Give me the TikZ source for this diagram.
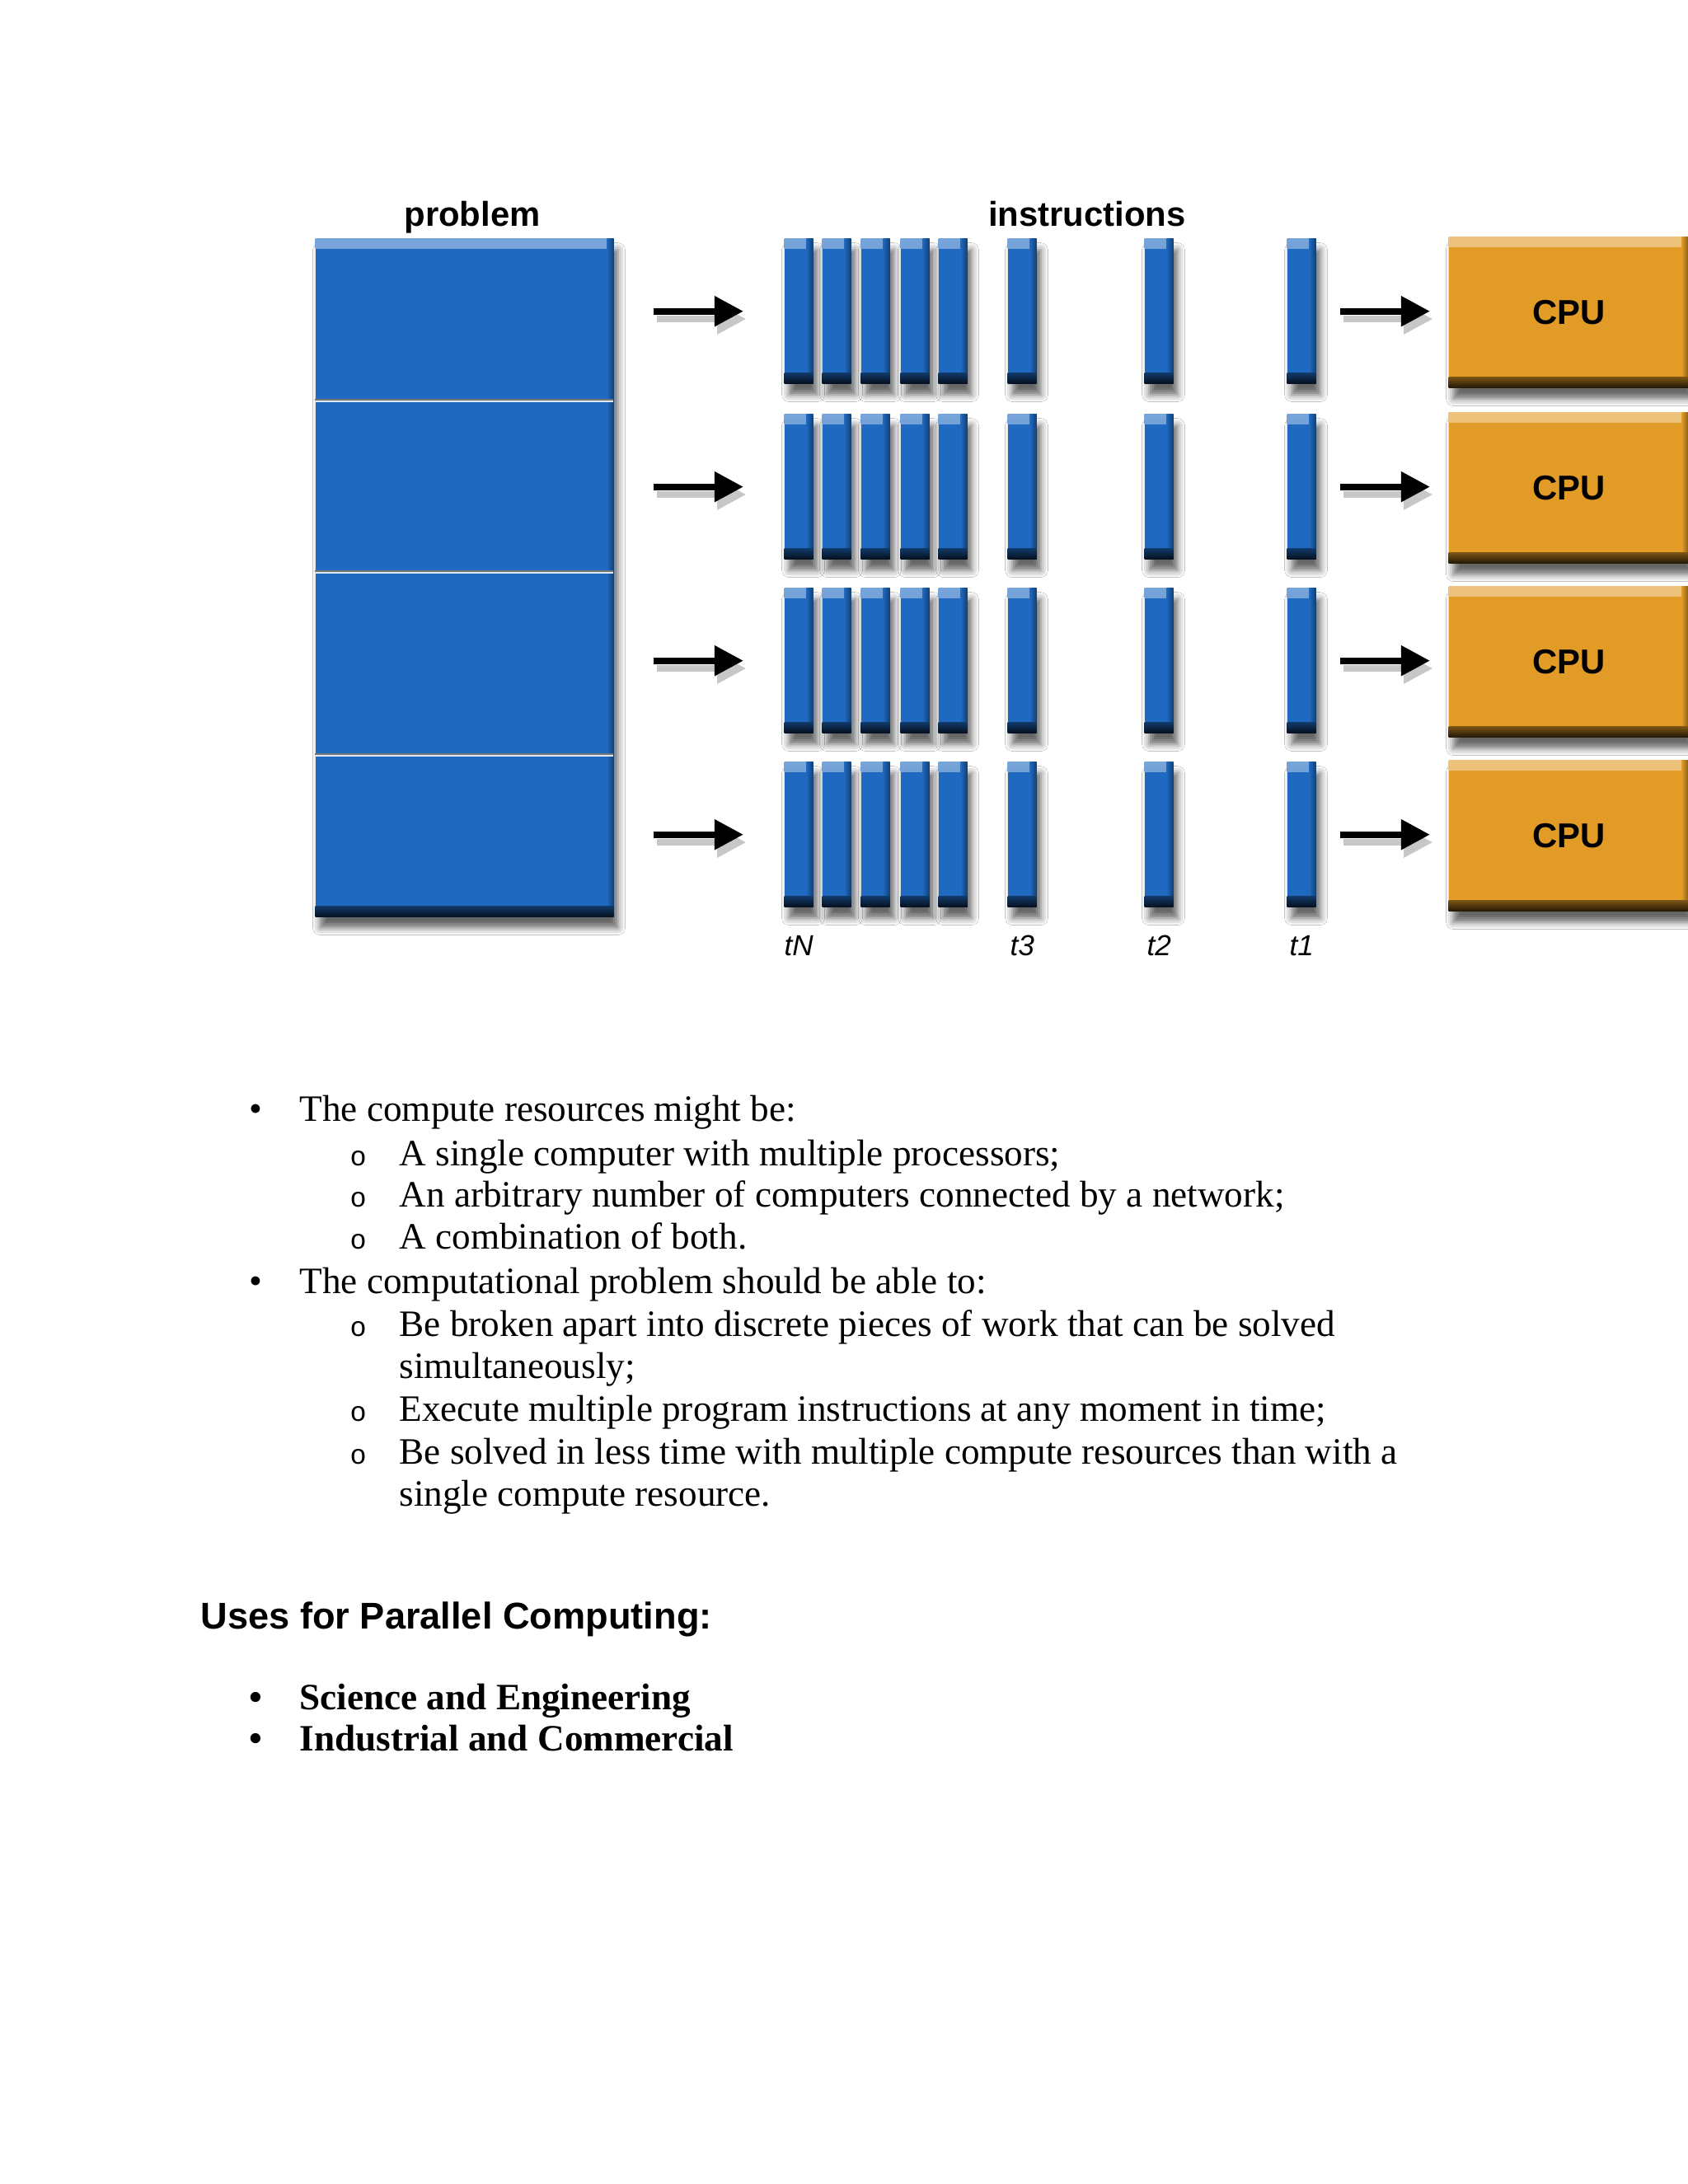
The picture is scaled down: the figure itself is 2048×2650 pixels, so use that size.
\documentclass[tikz,border=0pt]{standalone}
\usepackage{fontspec}
\setmainfont{Liberation Serif}
\setsansfont{Liberation Sans}
\setmonofont{Liberation Mono}
\usepackage{tikz}
\usetikzlibrary{arrows.meta,positioning,shadows.blur}
\definecolor{probBlue}  {RGB}{31, 105, 192}
\definecolor{cpuOrange} {RGB}{225, 155,  38}
\newlength\pxu
\setlength\pxu{0.29883pt}
\tikzset{
  blok/.style={fill=#1, inner sep=0pt, anchor=north west,
    blur shadow={shadow xshift=1.6pt, shadow yshift=-4pt,
                 shadow blur radius=2.5pt, shadow opacity=60},
    path picture={
      \shade[top color=#1!60!white, bottom color=#1]
        (path picture bounding box.north west) rectangle ([yshift=-3.5pt]path picture bounding box.north east);
      \shade[left color=#1, right color=#1!60!black]
        ([xshift=-2.5pt]path picture bounding box.north east) rectangle (path picture bounding box.south east);
      \shade[top color=#1!55!black, bottom color=#1!15!black]
        ([yshift=4pt]path picture bounding box.south west) rectangle (path picture bounding box.south east);
    }},
  bar/.style={blok=probBlue, minimum width=35\pxu, minimum height=176\pxu},
  cpu/.style={blok=cpuOrange, minimum width=291\pxu, minimum height=183\pxu,
    font=\sffamily\bfseries\fontsize{12.5}{14}\selectfont},
  titulo/.style={anchor=base, inner sep=0pt, font=\sffamily\bfseries\fontsize{12.5}{14}\selectfont},
  tlab/.style={inner sep=0pt, font=\sffamily\itshape\fontsize{10.5}{12}\selectfont},
  seta/.style={line width=2.4pt, -{Triangle[length=10.5pt,width=10.5pt]}},
  setasombra/.style={seta, draw=black!22, fill=black!22,
    transform canvas={shift={(1pt,-2.8pt)}}},
  divisor/.style={line width=0.7pt},
  txt/.style={anchor=base west, inner sep=0pt, font=\fontsize{13.5}{15}\selectfont},
  txtb/.style={txt, font=\bfseries\fontsize{13.5}{15}\selectfont},
  subb/.style={anchor=base west, inner sep=0pt, font=\ttfamily\fontsize{10}{12}\selectfont},
  secao/.style={anchor=base west, inner sep=0pt, font=\sffamily\bfseries\fontsize{13.5}{15}\selectfont}
}
\begin{document}
\begin{tikzpicture}[x=\pxu, y=-\pxu]
        \fill[white] (0,0) rectangle (2048,2650);
        \useasboundingbox (0,0) rectangle (2048,2650);
        % Titulos
        \node[titulo] (tProb) at (573,274) {problem};
        \node[titulo] (tInst) at (1319,274) {instructions};
        % Problema
        \node[blok=probBlue, minimum width=362\pxu, minimum height=823\pxu] (prob) at (382,289) {};
        \foreach \yy in {486,694,916}{
          \draw[divisor, black!55] (382,\yy-1) -- (744,\yy-1);
          \draw[divisor, white!85!probBlue] (382,\yy+1.2) -- (744,\yy+1.2);
        }
        % Instrucoes, CPUs e setas
        \foreach \r/\yy in {1/289,2/502,3/713,4/924}{
          \foreach \c/\xx in {1/951,2/997,3/1044,4/1092,5/1138,6/1222,7/1388,8/1561}
            \node[bar] (b\r-\c) at (\xx,\yy) {};
          \node[cpu] (cpu\r) at (1757,\yy-2) {CPU};
          \draw[setasombra, shorten <=48\pxu, shorten >=49\pxu] (prob.east |- b\r-1.west) -- (b\r-1.west);
          \draw[seta, shorten <=48\pxu, shorten >=49\pxu] (prob.east |- b\r-1.west) -- (b\r-1.west);
          \draw[setasombra, shorten <=29\pxu, shorten >=22\pxu] (b\r-8.east) -- (cpu\r.west |- b\r-8.east);
          \draw[seta, shorten <=29\pxu, shorten >=22\pxu] (b\r-8.east) -- (cpu\r.west |- b\r-8.east);
        }
        % Rotulos de tempo
        \node[tlab, below=33\pxu of b4-1] (lN) {tN};
        \node[tlab, below=33\pxu of b4-6] (l3) {t3};
        \node[tlab, below=33\pxu of b4-7] (l2) {t2};
        \node[tlab, below=33\pxu of b4-8] (l1) {t1};
        % Texto
        \node[txt] (p1) at (302,1360) {•};
        \node[txt] (t1) at (363,1360) {The compute resources might be:};
        \node[subb] (o1) at (424,1414) {o};
        \node[txt] (t2) at (484,1414) {A single computer with multiple processors;};
        \node[subb] (o2) at (424,1464) {o};
        \node[txt] (t3) at (484,1464) {An arbitrary number of computers connected by a network;};
        \node[subb] (o3) at (424,1515) {o};
        \node[txt] (t4) at (484,1515) {A combination of both.};
        \node[txt] (p2) at (302,1569) {•};
        \node[txt] (t5) at (363,1569) {The computational problem should be able to:};
        \node[subb] (o4) at (424,1621) {o};
        \node[txt] (t6) at (484,1621) {Be broken apart into discrete pieces of work that can be solved};
        \node[txt] (t7) at (484,1672) {simultaneously;};
        \node[subb] (o5) at (424,1724) {o};
        \node[txt] (t8) at (484,1724) {Execute multiple program instructions at any moment in time;};
        \node[subb] (o6) at (424,1776) {o};
        \node[txt] (t9) at (484,1776) {Be solved in less time with multiple compute resources than with a};
        \node[txt] (t10) at (484,1827) {single compute resource.};
        % Usos
        \node[secao] (uses) at (243,1976) {Uses for Parallel Computing:};
        \node[txtb] (p3) at (302,2074) {•};
        \node[txtb] (u1) at (363,2074) {Science and Engineering};
        \node[txtb] (p4) at (302,2124) {•};
        \node[txtb] (u2) at (363,2124) {Industrial and Commercial};
      \end{tikzpicture}
\end{document}
